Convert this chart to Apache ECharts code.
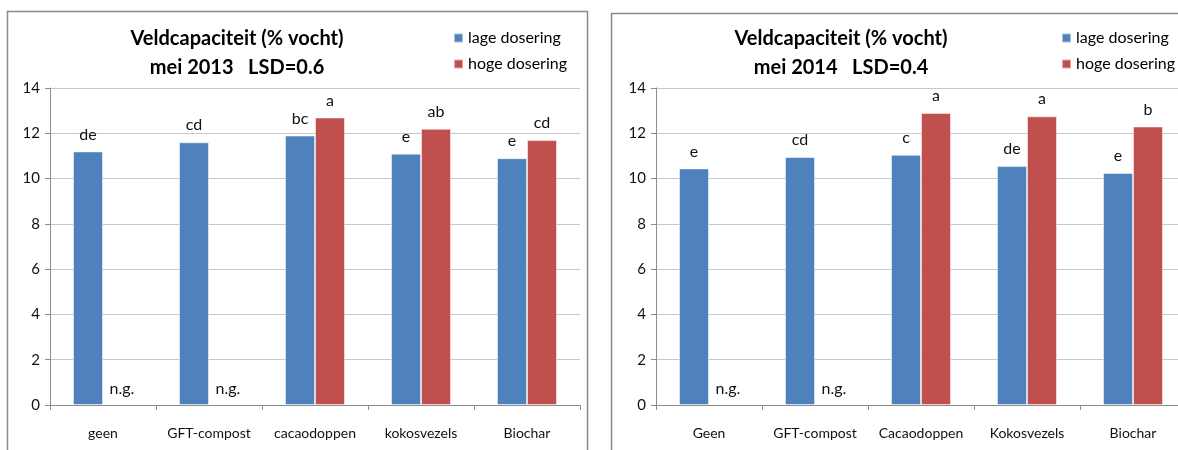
<!DOCTYPE html>
<html>
<head>
<meta charset="utf-8">
<script src="https://cdn.jsdelivr.net/npm/echarts@6/dist/echarts.min.js"></script>
<style>
  html, body { margin: 0; padding: 0; background: #fff; overflow: hidden; }
  #chart { width: 1192px; height: 450px; }
</style>
</head>
<body>
<div id="chart"></div>
<script>
// data
var cats2013 = ['geen', 'GFT-compost', 'cacaodoppen', 'kokosvezels', 'Biochar'];
var cats2014 = ['Geen', 'GFT-compost', 'Cacaodoppen', 'Kokosvezels', 'Biochar'];
var low2013 = [11.2, 11.6, 11.9, 11.1, 10.9];
var high2013 = [null, null, 12.7, 12.2, 11.7];
var low2014 = [10.45, 10.95, 11.05, 10.55, 10.25];
var high2014 = [null, null, 12.9, 12.75, 12.3];
var lowLetters2013 = ['de', 'cd', 'bc', 'e', 'e'];
var highLetters2013 = ['', '', 'a', 'ab', 'cd'];
var lowLetters2014 = ['e', 'cd', 'c', 'de', 'e'];
var highLetters2014 = ['', '', 'a', 'a', 'b'];
var seriesNames = ['lage dosering', 'hoge dosering'];
var titles = ['Veldcapaciteit (% vocht)\nmei 2013   LSD=0.6', 'Veldcapaciteit (% vocht)\nmei 2014   LSD=0.4'];
var yTicks = [0, 2, 4, 6, 8, 10, 12, 14];

var FONT = 'Lato, "Liberation Sans", sans-serif';
var BLUE = '#4F81BD';
var RED = '#C0504D';

function barData(values, letters) {
  return values.map(function (v, i) {
    if (v == null) {
      // missing measurement: zero bar with "n.g." label at base
      return { value: 0, itemStyle: { borderWidth: 0 }, label: { formatter: 'n.g.', distance: 8, offset: [4, 0] } };
    }
    return { value: v, label: { formatter: letters[i] } };
  });
}

function barSeries(name, idx, values, letters, color) {
  return {
    name: name,
    type: 'bar',
    xAxisIndex: idx,
    yAxisIndex: idx,
    barWidth: 30,
    barGap: '0%',
    itemStyle: { color: color, borderColor: 'rgba(255,255,255,0.5)', borderWidth: 1 },
    label: { show: true, position: 'top', distance: 9, color: '#111', fontSize: 16, fontFamily: FONT },
    data: barData(values, letters)
  };
}

function axisX(idx, cats) {
  return {
    type: 'category', gridIndex: idx, data: cats,
    axisLine: { lineStyle: { color: '#8c8c8c', width: 1 } },
    axisTick: { show: true, length: 5, lineStyle: { color: '#8c8c8c' } },
    axisLabel: { interval: 0, color: '#111', fontSize: 14, fontFamily: FONT, margin: 21 }
  };
}

function axisY(idx) {
  return {
    type: 'value', gridIndex: idx, min: yTicks[0], max: yTicks[yTicks.length - 1], interval: 2,
    axisLine: { show: true, lineStyle: { color: '#8c8c8c', width: 1 } },
    axisTick: { show: true, length: 5, lineStyle: { color: '#8c8c8c' } },
    splitLine: { lineStyle: { color: '#c8c8c8', width: 1 } },
    axisLabel: { color: '#111', fontSize: 15, fontFamily: FONT, margin: 10 }
  };
}

var chart = echarts.init(document.getElementById('chart'));
chart.setOption({
  animation: false,
  color: [BLUE, RED],
  graphic: [
    { type: 'rect', shape: { x: 7.5, y: 11.5, width: 580, height: 470 }, style: { fill: 'none', stroke: '#8a8a8a', lineWidth: 1.5 } },
    { type: 'rect', shape: { x: 611.5, y: 13.5, width: 620, height: 470 }, style: { fill: 'none', stroke: '#8a8a8a', lineWidth: 1.5 } }
  ],
  title: [
    { text: titles[0], left: 232, top: 19, textAlign: 'center',
      textStyle: { fontSize: 20, fontWeight: 'bold', fontFamily: FONT, color: '#000', lineHeight: 29 } },
    { text: titles[1], left: 836, top: 19, textAlign: 'center',
      textStyle: { fontSize: 20, fontWeight: 'bold', fontFamily: FONT, color: '#000', lineHeight: 29 } }
  ],
  legend: [
    { data: seriesNames, orient: 'vertical', left: 448, top: 25, itemWidth: 9, itemHeight: 9, itemGap: 10, icon: 'rect',
      textStyle: { fontSize: 16, fontFamily: FONT, color: '#000' } },
    { data: seriesNames, orient: 'vertical', left: 1056, top: 25, itemWidth: 9, itemHeight: 9, itemGap: 10, icon: 'rect',
      textStyle: { fontSize: 16, fontFamily: FONT, color: '#000' } }
  ],
  grid: [
    { left: 50, top: 88, width: 530, height: 317 },
    { left: 656, top: 88, width: 530, height: 317 }
  ],
  xAxis: [axisX(0, cats2013), axisX(1, cats2014)],
  yAxis: [axisY(0), axisY(1)],
  series: [
    barSeries(seriesNames[0], 0, low2013, lowLetters2013, BLUE),
    barSeries(seriesNames[1], 0, high2013, highLetters2013, RED),
    barSeries(seriesNames[0], 1, low2014, lowLetters2014, BLUE),
    barSeries(seriesNames[1], 1, high2014, highLetters2014, RED)
  ]
});
</script>
</body>
</html>
